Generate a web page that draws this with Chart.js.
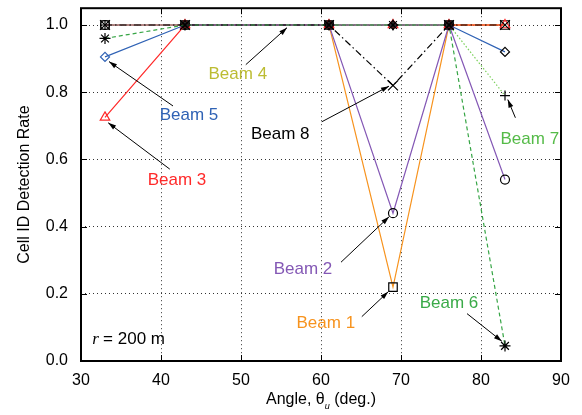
<!DOCTYPE html>
<html>
<head>
<meta charset="utf-8">
<script src="https://cdn.jsdelivr.net/npm/chart.js"></script>
<style>
  html, body { margin: 0; padding: 0; background: #fff; }
  #wrap { width: 582px; height: 415px; }
</style>
</head>
<body>
<div id="wrap"><canvas id="beamChart"></canvas></div>
<script>
// angles where the detection rate was measured
const angles = [33, 43, 61, 69, 76, 83];

// detection rate per beam
const beam1 = [1, 1, 1, 0.22, 1, 1];
const beam2 = [1, 1, 1, 0.44, 1, 0.54];
const beam3 = [0.725, 1, 1, 1, 1, 1];
const beam4 = [1, 1, 1, 1, 1, 1];
const beam5 = [0.905, 1, 1, 1, 1, 0.92];
const beam6 = [0.96, 1, 1, 1, 1, 0.045];
const beam7 = [1, 1, 1, 1, 1, 0.79];
const beam8 = [1, 1, 1, 0.82, 1, 1];

const xTicks = [30, 40, 50, 60, 70, 80, 90];
const yTicks = [0, 0.2, 0.4, 0.6, 0.8, 1.0];

// label text, label position and arrow (from -> to), in data units
const beamLabels = ['Beam 1', 'Beam 2', 'Beam 3', 'Beam 4', 'Beam 5', 'Beam 6', 'Beam 7', 'Beam 8'];
const labelPos = [[60.6, 0.113], [57.75, 0.274], [42, 0.538], [49.6, 0.852], [43.5, 0.732], [76, 0.171], [86.1, 0.659], [54.9, 0.676]];
const arrowFrom = [[65.1, 0.132], [62.5, 0.294], [41.1, 0.571], [50.6, 0.882], [41.5, 0.759], [78.25, 0.141], [84.3, 0.724], [60.1, 0.712]];
const arrowTo = [[68.4, 0.206], [68.5, 0.429], [33.4, 0.709], [55.75, 0.992], [33.5, 0.891], [82.6, 0.059], [83.35, 0.778], [68.5, 0.818]];

const colors = ['#f7931e', '#8458b5', '#ff2a2a', '#bcbc32', '#2f62b5', '#36a545', '#7ad05a', '#000000'];
const labelColors = ['#f7931e', '#8458b5', '#ff2a2a', '#bcbc32', '#2f62b5', '#3aaa48', '#55bb48', '#000000'];

const FONT = '"Liberation Sans", Arial, Helvetica, sans-serif';

function pts(vals) {
    return angles.map((a, i) => ({ x: a, y: vals[i] }));
}

const datasets = [
    { label: 'Beam 1', data: pts(beam1), borderColor: colors[0], pointStyle: 'rect', pointRadius: 6, pointBorderColor: '#000', order: 6 },
    { label: 'Beam 2', data: pts(beam2), borderColor: colors[1], pointStyle: 'circle', pointRadius: 4.5, pointBorderColor: '#000', order: 5 },
    { label: 'Beam 3', data: pts(beam3), borderColor: colors[2], pointStyle: 'triangle', pointRadius: 5.5, pointBorderColor: colors[2], order: 4 },
    { label: 'Beam 4', data: pts(beam4), borderColor: colors[3], pointStyle: 'circle', pointRadius: 0, order: 8 },
    { label: 'Beam 5', data: pts(beam5), borderColor: colors[4], pointStyle: 'rectRot', pointRadius: 4.5, pointBorderColor: [colors[4], '#000', '#000', '#000', '#000', '#000'], order: 3 },
    { label: 'Beam 6', data: pts(beam6), borderColor: colors[5], borderDash: [4, 3], pointStyle: 'star', pointRadius: 5.5, pointBorderColor: '#000', order: 1 },
    { label: 'Beam 7', data: pts(beam7), borderColor: colors[6], borderDash: [1.5, 2], pointStyle: 'cross', pointRadius: 5, pointBorderColor: '#000', order: 7 },
    { label: 'Beam 8', data: pts(beam8), borderColor: colors[7], borderDash: [7, 3, 1.5, 3], pointStyle: 'crossRot', pointRadius: 7, pointBorderColor: '#000', order: 2 }
];
datasets.forEach(d => {
    d.borderWidth = 1.2;
    d.pointBackgroundColor = 'rgba(0,0,0,0)';
    d.pointBorderWidth = 1.2;
    d.tension = 0;
    d.fill = false;
});

// box, inward ticks, arrows, beam labels and x title
const decorations = {
    id: 'decorations',
    afterDraw(chart) {
        const { ctx, chartArea: a, scales: { x, y } } = chart;
        ctx.save();

        ctx.strokeStyle = '#000';
        ctx.lineWidth = 1;
        ctx.setLineDash([]);
        xTicks.forEach(v => {
            const px = Math.round(x.getPixelForValue(v)) + 0.5;
            ctx.beginPath();
            ctx.moveTo(px, a.bottom); ctx.lineTo(px, a.bottom - 6);
            ctx.moveTo(px, a.top); ctx.lineTo(px, a.top + 6);
            ctx.stroke();
        });
        yTicks.forEach(v => {
            const py = Math.round(y.getPixelForValue(v)) + 0.5;
            ctx.beginPath();
            ctx.moveTo(a.left, py); ctx.lineTo(a.left + 6, py);
            ctx.moveTo(a.right, py); ctx.lineTo(a.right - 6, py);
            ctx.stroke();
        });

        ctx.lineWidth = 2;
        ctx.strokeRect(a.left, a.top, a.right - a.left, a.bottom - a.top);

        // arrows
        ctx.lineWidth = 1;
        ctx.fillStyle = '#000';
        beamLabels.forEach((t, i) => {
            const x1 = x.getPixelForValue(arrowFrom[i][0]), y1 = y.getPixelForValue(arrowFrom[i][1]);
            const x2 = x.getPixelForValue(arrowTo[i][0]), y2 = y.getPixelForValue(arrowTo[i][1]);
            const ang = Math.atan2(y2 - y1, x2 - x1);
            ctx.beginPath();
            ctx.moveTo(x1, y1); ctx.lineTo(x2, y2);
            ctx.stroke();
            ctx.beginPath();
            ctx.moveTo(x2, y2);
            ctx.lineTo(x2 - 8 * Math.cos(ang) + 2.5 * Math.sin(ang), y2 - 8 * Math.sin(ang) - 2.5 * Math.cos(ang));
            ctx.lineTo(x2 - 8 * Math.cos(ang) - 2.5 * Math.sin(ang), y2 - 8 * Math.sin(ang) + 2.5 * Math.cos(ang));
            ctx.closePath();
            ctx.fill();
        });

        // beam labels
        ctx.font = '17px ' + FONT;
        ctx.textAlign = 'center';
        ctx.textBaseline = 'middle';
        beamLabels.forEach((t, i) => {
            ctx.fillStyle = labelColors[i];
            ctx.fillText(t, x.getPixelForValue(labelPos[i][0]), y.getPixelForValue(labelPos[i][1]));
        });

        // r = 200 m
        ctx.fillStyle = '#000';
        ctx.textAlign = 'left';
        let rx = x.getPixelForValue(31.4);
        const ry = y.getPixelForValue(0.065);
        ctx.font = 'italic 17px "Liberation Serif", "Times New Roman", serif';
        ctx.fillText('r', rx, ry);
        rx += ctx.measureText('r ').width;
        ctx.font = '17px ' + FONT;
        ctx.fillText('= 200 m', rx, ry);

        // x axis title with subscript
        const cy = 400;
        ctx.font = '16px ' + FONT;
        const p1 = 'Angle, θ', p3 = ' (deg.)';
        const w1 = ctx.measureText(p1).width, w3 = ctx.measureText(p3).width;
        ctx.font = 'italic 9px ' + FONT;
        const w2 = ctx.measureText('u').width;
        let tx = (a.left + a.right) / 2 - (w1 + w2 + w3) / 2;
        ctx.font = '16px ' + FONT;
        ctx.fillText(p1, tx, cy);
        tx += w1;
        ctx.font = 'italic 9px ' + FONT;
        ctx.fillText('u', tx, cy + 6);
        tx += w2;
        ctx.font = '16px ' + FONT;
        ctx.fillText(p3, tx, cy);

        ctx.restore();
    }
};

new Chart(document.getElementById('beamChart').getContext('2d'), {
    type: 'line',
    data: { datasets },
    options: {
        responsive: true,
        maintainAspectRatio: false,
        animation: false,
        layout: { padding: { top: 5, right: 21, left: 0, bottom: 0 } },
        plugins: {
            legend: { display: false },
            tooltip: { enabled: false }
        },
        scales: {
            x: {
                type: 'linear',
                min: 30,
                max: 90,
                afterFit: s => { s.height = 54; s.paddingLeft = 0; s.paddingRight = 0; },
                afterBuildTicks: s => { s.ticks = xTicks.map(v => ({ value: v })); },
                grid: { color: '#333', lineWidth: 1, drawTicks: false },
                border: { display: false, dash: [1, 3] },
                ticks: {
                    padding: 10,
                    color: '#000',
                    font: { family: FONT, size: 16 },
                    callback: v => String(v)
                }
            },
            y: {
                type: 'linear',
                min: 0,
                max: 1.05,
                afterFit: s => { s.width = 81; s.paddingTop = 0; s.paddingBottom = 0; },
                afterBuildTicks: s => { s.ticks = yTicks.map(v => ({ value: v })); },
                grid: { color: '#333', lineWidth: 1, drawTicks: false },
                border: { display: false, dash: [1, 3] },
                ticks: {
                    padding: 13,
                    color: '#000',
                    font: { family: FONT, size: 16 },
                    callback: v => Number(v).toFixed(1)
                },
                title: {
                    display: true,
                    text: 'Cell ID Detection Rate',
                    color: '#000',
                    font: { family: FONT, size: 16 },
                    padding: { top: 15, bottom: 0 }
                }
            }
        }
    },
    plugins: [decorations]
});
</script>
</body>
</html>
